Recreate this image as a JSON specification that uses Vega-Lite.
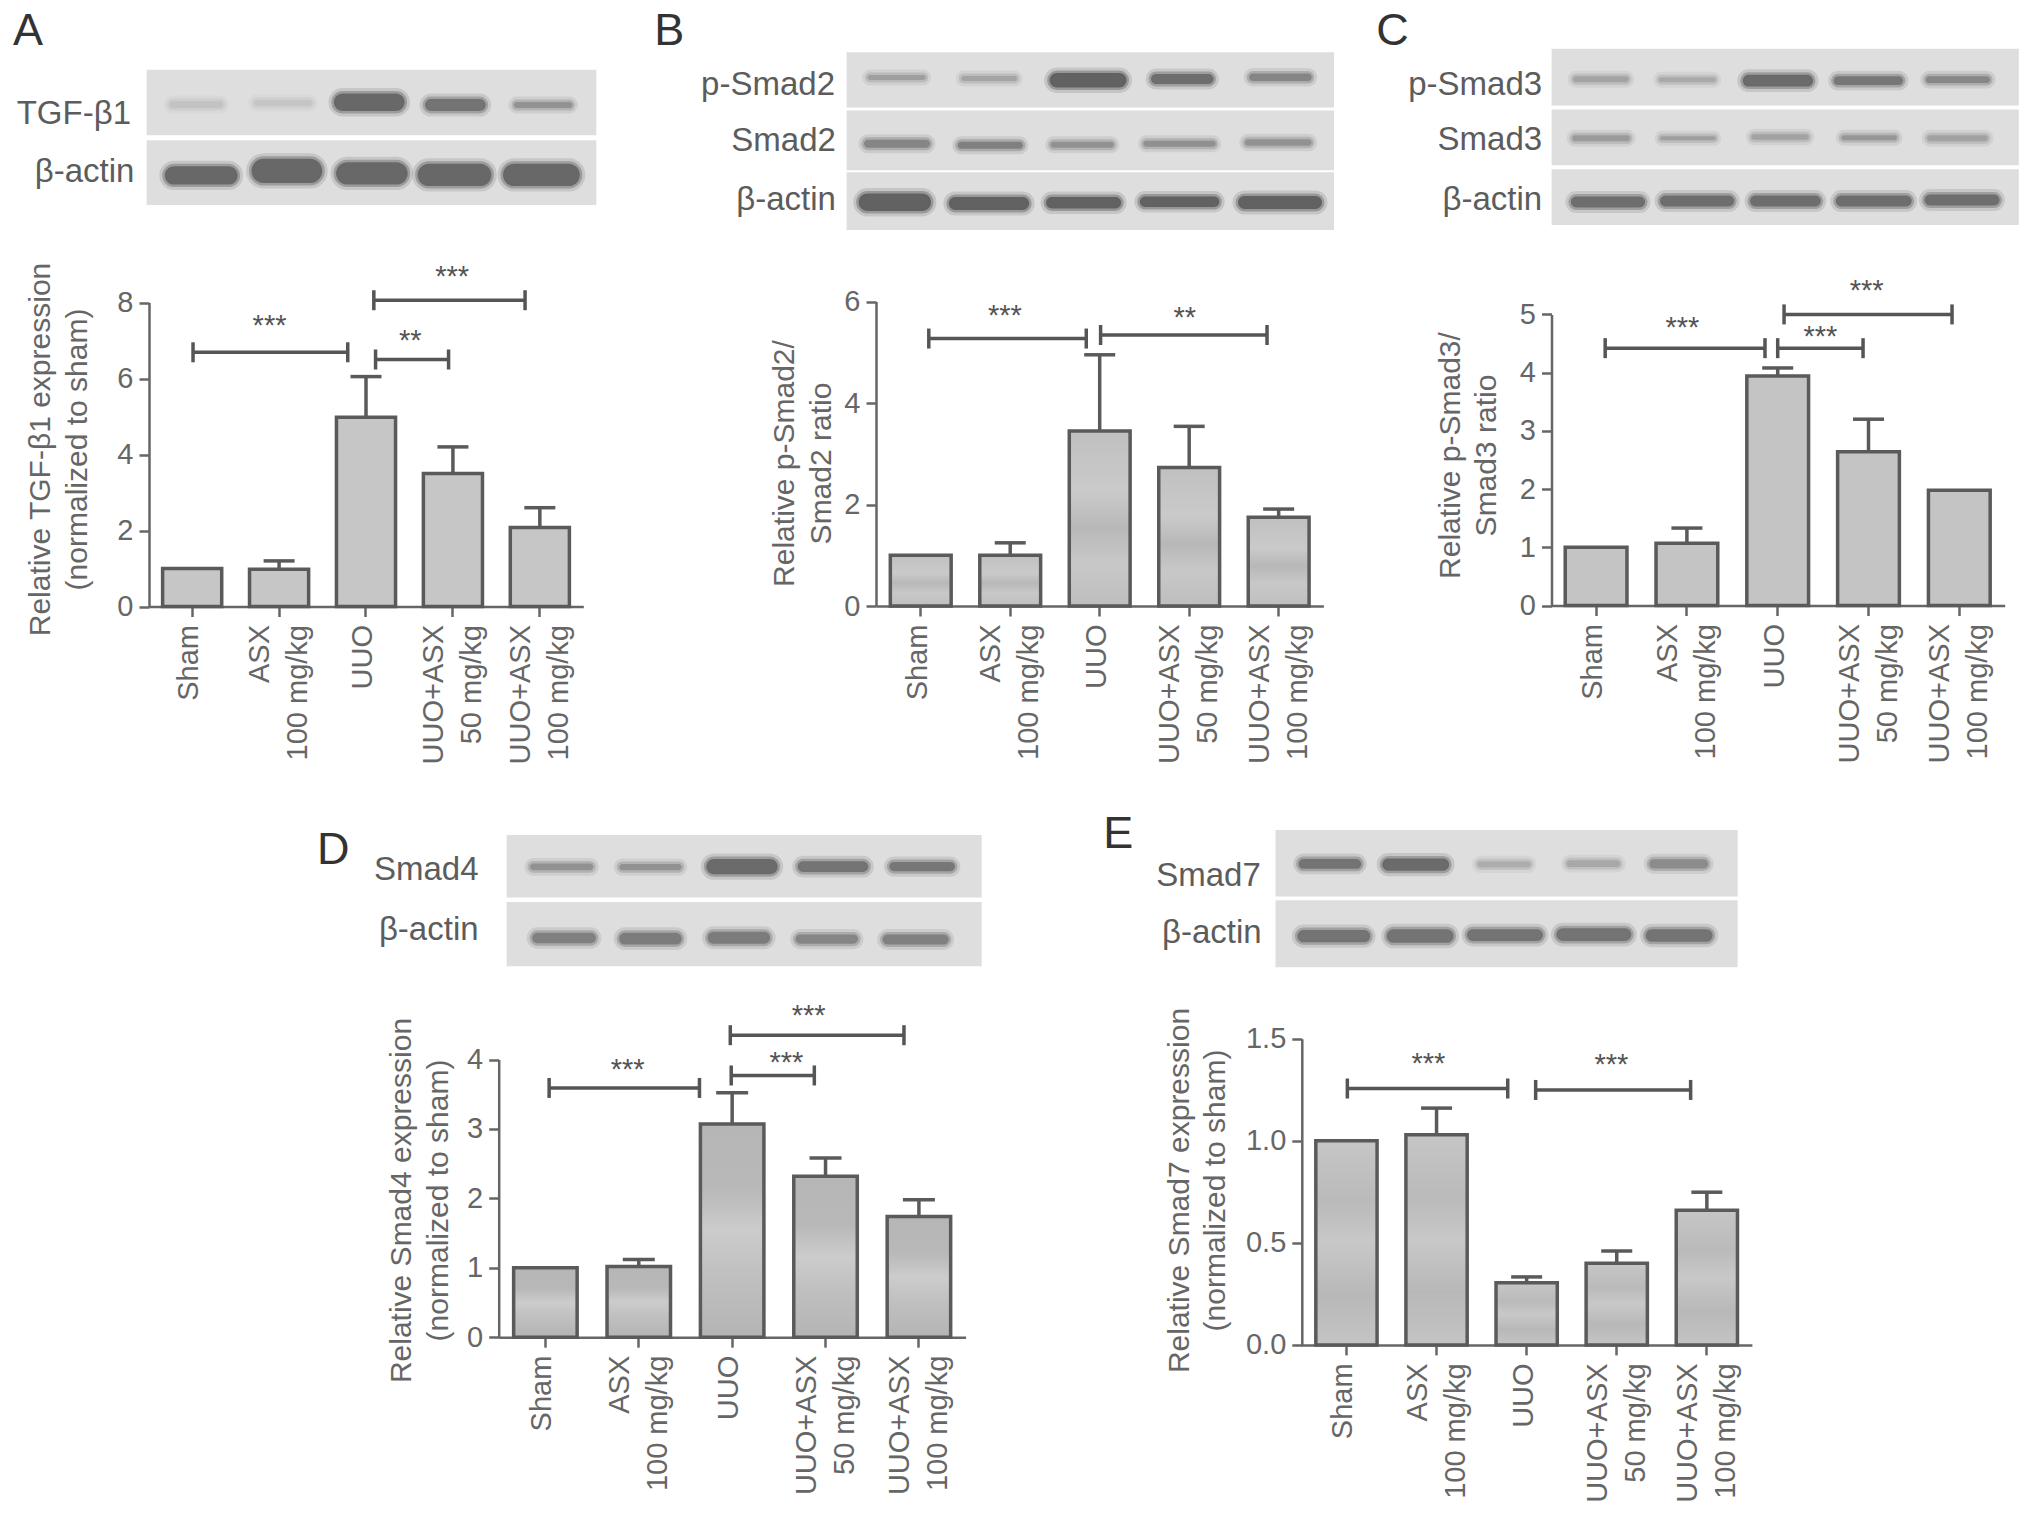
{"$schema":"https://vega.github.io/schema/vega-lite/v6.json","width":2032,"height":1520,"autosize":{"type":"none"},"padding":0,"background":"white",
"config":{"font":"Liberation Sans","view":{"stroke":null},"axis":{"grid":false,"domainColor":"#666666","domainWidth":2.5,"tickColor":"#666666","tickWidth":2.5,"tickSize":10,"labelColor":"#666666","titleColor":"#666666","labelFontSize":29,"titleFontSize":30,"titleFontWeight":"normal","titleBaseline":"alphabetic","labelOverlap":false,"labelBound":false,"labelFlush":false,"labelLimit":400,"titleLimit":600}},
"resolve":{"scale":{"x":"independent","y":"independent"}},
"datasets":{
"strips":[
{"panel":"A","left":338,"right":1375,"top":140,"bottom":272},{"panel":"A","left":338,"right":1375,"top":282,"bottom":412},
{"panel":"B","left":418,"right":1510,"top":105,"bottom":216},{"panel":"B","left":418,"right":1510,"top":222,"bottom":342},{"panel":"B","left":418,"right":1510,"top":346,"bottom":462},
{"panel":"C","left":447,"right":1537,"top":98,"bottom":212},{"panel":"C","left":447,"right":1537,"top":220,"bottom":332},{"panel":"C","left":447,"right":1537,"top":340,"bottom":452},
{"panel":"D","left":463,"right":1527,"top":55,"bottom":193},{"panel":"D","left":463,"right":1527,"top":203,"bottom":345},
{"panel":"E","left":438,"right":1473,"top":44,"bottom":191},{"panel":"E","left":438,"right":1473,"top":199,"bottom":347}],
"bands":[
{"panel":"A","left":390,"right":515,"top":203,"bottom":217,"intensity":0.22},{"panel":"A","left":585,"right":720,"top":201,"bottom":213,"intensity":0.2},{"panel":"A","left":770,"right":933,"top":188,"bottom":223,"intensity":0.95},{"panel":"A","left":980,"right":1120,"top":199,"bottom":223,"intensity":0.85},{"panel":"A","left":1185,"right":1320,"top":205,"bottom":217,"intensity":0.6},
{"panel":"A","left":380,"right":548,"top":334,"bottom":371,"intensity":0.95},{"panel":"A","left":580,"right":743,"top":319,"bottom":368,"intensity":0.95},{"panel":"A","left":775,"right":940,"top":326,"bottom":371,"intensity":0.95},{"panel":"A","left":963,"right":1133,"top":329,"bottom":374,"intensity":0.95},{"panel":"A","left":1160,"right":1337,"top":329,"bottom":374,"intensity":0.95},
{"panel":"B","left":465,"right":595,"top":151,"bottom":161,"intensity":0.5},{"panel":"B","left":675,"right":800,"top":153,"bottom":163,"intensity":0.45},{"panel":"B","left":873,"right":1045,"top":147,"bottom":176,"intensity":1},{"panel":"B","left":1100,"right":1240,"top":149,"bottom":169,"intensity":0.9},{"panel":"B","left":1320,"right":1460,"top":148,"bottom":163,"intensity":0.7},
{"panel":"B","left":457,"right":605,"top":281,"bottom":297,"intensity":0.7},{"panel":"B","left":667,"right":813,"top":285,"bottom":299,"intensity":0.75},{"panel":"B","left":875,"right":1017,"top":285,"bottom":297,"intensity":0.6},{"panel":"B","left":1083,"right":1245,"top":283,"bottom":295,"intensity":0.62},{"panel":"B","left":1310,"right":1460,"top":280,"bottom":293,"intensity":0.6},
{"panel":"B","left":445,"right":607,"top":389,"bottom":424,"intensity":1},{"panel":"B","left":647,"right":827,"top":396,"bottom":422,"intensity":1},{"panel":"B","left":865,"right":1033,"top":396,"bottom":419,"intensity":1},{"panel":"B","left":1075,"right":1253,"top":395,"bottom":416,"intensity":1},{"panel":"B","left":1295,"right":1483,"top":394,"bottom":420,"intensity":1},
{"panel":"C","left":497,"right":627,"top":153,"bottom":165,"intensity":0.45},{"panel":"C","left":697,"right":830,"top":155,"bottom":165,"intensity":0.42},{"panel":"C","left":893,"right":1057,"top":150,"bottom":174,"intensity":0.92},{"panel":"C","left":1105,"right":1267,"top":153,"bottom":171,"intensity":0.82},{"panel":"C","left":1320,"right":1470,"top":153,"bottom":167,"intensity":0.68},
{"panel":"C","left":495,"right":630,"top":272,"bottom":284,"intensity":0.52},{"panel":"C","left":700,"right":830,"top":274,"bottom":282,"intensity":0.5},{"panel":"C","left":913,"right":1047,"top":270,"bottom":281,"intensity":0.47},{"panel":"C","left":1123,"right":1253,"top":272,"bottom":282,"intensity":0.57},{"panel":"C","left":1323,"right":1465,"top":272,"bottom":284,"intensity":0.47},
{"panel":"C","left":492,"right":665,"top":395,"bottom":417,"intensity":0.9},{"panel":"C","left":700,"right":873,"top":393,"bottom":415,"intensity":0.9},{"panel":"C","left":910,"right":1075,"top":393,"bottom":415,"intensity":0.9},{"panel":"C","left":1110,"right":1287,"top":393,"bottom":415,"intensity":0.9},{"panel":"C","left":1317,"right":1492,"top":391,"bottom":413,"intensity":0.9},
{"panel":"D","left":515,"right":657,"top":118,"bottom":133,"intensity":0.6},{"panel":"D","left":715,"right":855,"top":119,"bottom":133,"intensity":0.6},{"panel":"D","left":910,"right":1070,"top":108,"bottom":142,"intensity":0.92},{"panel":"D","left":1115,"right":1273,"top":113,"bottom":137,"intensity":0.85},{"panel":"D","left":1320,"right":1467,"top":115,"bottom":135,"intensity":0.82},
{"panel":"D","left":520,"right":663,"top":271,"bottom":294,"intensity":0.75},{"panel":"D","left":715,"right":855,"top":271,"bottom":297,"intensity":0.78},{"panel":"D","left":913,"right":1053,"top":269,"bottom":295,"intensity":0.78},{"panel":"D","left":1110,"right":1250,"top":275,"bottom":295,"intensity":0.7},{"panel":"D","left":1305,"right":1453,"top":275,"bottom":297,"intensity":0.75},
{"panel":"E","left":490,"right":630,"top":108,"bottom":130,"intensity":0.85},{"panel":"E","left":677,"right":827,"top":107,"bottom":134,"intensity":0.92},{"panel":"E","left":890,"right":1010,"top":113,"bottom":127,"intensity":0.38},{"panel":"E","left":1090,"right":1210,"top":111,"bottom":126,"intensity":0.43},{"panel":"E","left":1275,"right":1407,"top":109,"bottom":129,"intensity":0.65},
{"panel":"E","left":487,"right":650,"top":265,"bottom":292,"intensity":0.85},{"panel":"E","left":687,"right":837,"top":263,"bottom":293,"intensity":0.85},{"panel":"E","left":867,"right":1037,"top":263,"bottom":289,"intensity":0.85},{"panel":"E","left":1067,"right":1235,"top":261,"bottom":289,"intensity":0.85},{"panel":"E","left":1267,"right":1417,"top":263,"bottom":291,"intensity":0.85}],
"rowLabels":[
{"panel":"A","label":"TGF-β1","right":302,"middle":230},{"panel":"A","label":"β-actin","right":310,"middle":345},
{"panel":"B","label":"p-Smad2","right":392,"middle":170},{"panel":"B","label":"Smad2","right":394,"middle":284},{"panel":"B","label":"β-actin","right":394,"middle":402},
{"panel":"C","label":"p-Smad3","right":425,"middle":170},{"panel":"C","label":"Smad3","right":425,"middle":282},{"panel":"C","label":"β-actin","right":425,"middle":402},
{"panel":"D","label":"Smad4","right":400,"middle":133},{"panel":"D","label":"β-actin","right":400,"middle":264},
{"panel":"E","label":"Smad7","right":405,"middle":145},{"panel":"E","label":"β-actin","right":407,"middle":272}],
"letters":[
{"panel":"A","letter":"A","left":30,"middle":62},{"panel":"B","letter":"B","left":-13,"middle":62},{"panel":"C","letter":"C","left":38,"middle":62},{"panel":"D","letter":"D","left":38,"middle":88},{"panel":"E","letter":"E","left":52,"middle":52}],
"bars":[
{"panel":"A","group":"Sham","mean":1,"upper":null},{"panel":"A","group":"ASX\n100 mg/kg","mean":0.98,"upper":1.2},{"panel":"A","group":"UUO","mean":4.98,"upper":6.05},{"panel":"A","group":"UUO+ASX\n50 mg/kg","mean":3.5,"upper":4.2},{"panel":"A","group":"UUO+ASX\n100 mg/kg","mean":2.08,"upper":2.6},
{"panel":"B","group":"Sham","mean":1,"upper":null},{"panel":"B","group":"ASX\n100 mg/kg","mean":1.0,"upper":1.245},{"panel":"B","group":"UUO","mean":3.45,"upper":4.95},{"panel":"B","group":"UUO+ASX\n50 mg/kg","mean":2.73,"upper":3.54},{"panel":"B","group":"UUO+ASX\n100 mg/kg","mean":1.75,"upper":1.91},
{"panel":"C","group":"Sham","mean":1,"upper":null},{"panel":"C","group":"ASX\n100 mg/kg","mean":1.07,"upper":1.33},{"panel":"C","group":"UUO","mean":3.94,"upper":4.08},{"panel":"C","group":"UUO+ASX\n50 mg/kg","mean":2.64,"upper":3.2},{"panel":"C","group":"UUO+ASX\n100 mg/kg","mean":1.98,"upper":null},
{"panel":"D","group":"Sham","mean":1,"upper":null},{"panel":"D","group":"ASX\n100 mg/kg","mean":1.02,"upper":1.12},{"panel":"D","group":"UUO","mean":3.07,"upper":3.52},{"panel":"D","group":"UUO+ASX\n50 mg/kg","mean":2.32,"upper":2.58},{"panel":"D","group":"UUO+ASX\n100 mg/kg","mean":1.74,"upper":1.98},
{"panel":"E","group":"Sham","mean":1,"upper":null},{"panel":"E","group":"ASX\n100 mg/kg","mean":1.03,"upper":1.16},{"panel":"E","group":"UUO","mean":0.304,"upper":0.333},{"panel":"E","group":"UUO+ASX\n50 mg/kg","mean":0.4,"upper":0.46},{"panel":"E","group":"UUO+ASX\n100 mg/kg","mean":0.66,"upper":0.748}],
"brackets":[
{"panel":"A","from":1.01,"to":2.79,"level":6.69},{"panel":"A","from":3.09,"to":4.83,"level":8.06},{"panel":"A","from":3.11,"to":3.95,"level":6.5},
{"panel":"B","from":1.09,"to":2.85,"level":5.27},{"panel":"B","from":3.01,"to":4.87,"level":5.34},
{"panel":"C","from":1.1,"to":2.86,"level":4.42},{"panel":"C","from":3.0,"to":3.94,"level":4.42},{"panel":"C","from":3.07,"to":4.92,"level":5.0},
{"panel":"D","from":1.04,"to":2.65,"level":3.59},{"panel":"D","from":2.99,"to":3.88,"level":3.77},{"panel":"D","from":2.98,"to":4.84,"level":4.35},
{"panel":"E","from":1.01,"to":2.79,"level":1.256},{"panel":"E","from":3.1,"to":4.82,"level":1.249}],
"stars":[
{"panel":"A","mark":"***","at":1.89,"level":7.55},{"panel":"A","mark":"***","at":3.99,"level":8.82},{"panel":"A","mark":"**","at":3.51,"level":7.15},
{"panel":"B","mark":"***","at":1.94,"level":5.83},{"panel":"B","mark":"**","at":3.95,"level":5.79},
{"panel":"C","mark":"***","at":1.95,"level":4.87},{"panel":"C","mark":"***","at":3.98,"level":5.5},{"panel":"C","mark":"***","at":3.47,"level":4.72},
{"panel":"D","mark":"***","at":1.88,"level":3.93},{"panel":"D","mark":"***","at":3.82,"level":4.72},{"panel":"D","mark":"***","at":3.58,"level":4.04},
{"panel":"E","mark":"***","at":1.91,"level":1.407},{"panel":"E","mark":"***","at":3.94,"level":1.402}]
},
"layer":[
{"layer":[
{"data":{"name":"strips"},"transform":[{"filter":"datum.panel=='A'"}],"mark":{"type":"rect","fill":"#dedede"},"encoding":{"x":{"field":"left","type":"quantitative","scale":{"domain":[338,1375],"range":[146.6,596.3],"nice":false,"zero":false},"axis":null},"x2":{"field":"right"},"y":{"field":"top","type":"quantitative","scale":{"domain":[140,412],"range":[69.7,205],"nice":false,"zero":false},"axis":null},"y2":{"field":"bottom"}}},
{"data":{"name":"bands"},"transform":[{"filter":"datum.panel=='A'"}],"encoding":{"x":{"field":"left","type":"quantitative","axis":null},"x2":{"field":"right"},"y":{"field":"top","type":"quantitative","axis":null},"y2":{"field":"bottom"},"fill":{"field":"intensity","type":"quantitative","scale":{"domain":[0,1],"range":["#e0e0e0","#626262"]},"legend":null},"stroke":{"field":"intensity","type":"quantitative","scale":{"domain":[0,1],"range":["#e0e0e0","#626262"]},"legend":null}},"layer":[{"mark":{"type":"rect","cornerRadius":30,"strokeWidth":11,"strokeOpacity":0.2,"fillOpacity":0}},{"mark":{"type":"rect","cornerRadius":30,"strokeWidth":5,"strokeOpacity":0.45}}]},
{"data":{"name":"rowLabels"},"transform":[{"filter":"datum.panel=='A'"}],"mark":{"type":"text","align":"right","baseline":"middle","fontSize":33,"color":"#5c5c5c"},"encoding":{"x":{"field":"right","type":"quantitative","axis":null},"y":{"field":"middle","type":"quantitative","axis":null},"text":{"field":"label"}}},
{"data":{"name":"letters"},"transform":[{"filter":"datum.panel=='A'"}],"mark":{"type":"text","align":"left","baseline":"middle","fontSize":45,"color":"#333333"},"encoding":{"x":{"field":"left","type":"quantitative","axis":null},"y":{"field":"middle","type":"quantitative","axis":null},"text":{"field":"letter"}}}
]},
{"data":{"name":"bars"},"transform":[{"filter":"datum.panel=='A'"}],"encoding":{"x":{"field":"group","type":"nominal","scale":{"domain":["Sham","ASX\n100 mg/kg","UUO","UUO+ASX\n50 mg/kg","UUO+ASX\n100 mg/kg"],"range":[148.7,583.3],"paddingInner":0.32,"paddingOuter":0.16},"axis":{"orient":"bottom","offset":-913.5,"title":null,"labelAngle":270,"labelAlign":"right","labelBaseline":"middle","labelPadding":8,"labelLineHeight":38,"labelOffset":{"condition":{"test":"indexof(datum.value,'\\n')>=0","value":-19},"value":-3},"labelExpr":"split(datum.label,'\\n')"}},"y":{"field":"mean","type":"quantitative","scale":{"domain":[0,8],"range":[606.5,302.5],"nice":false},"axis":{"orient":"left","offset":-149,"values":[0,2,4,6,8],"labelPadding":6,"title":["Relative TGF-β1 expression","(normalized to sham)"],"titleX":-100,"titleY":449,"titleLineHeight":37}}},
"layer":[
{"transform":[{"filter":"datum.upper!=null"}],"mark":{"type":"rule","color":"#5a5a5a","strokeWidth":3.5},"encoding":{"y2":{"field":"upper"}}},
{"mark":{"type":"bar","stroke":"#5a5a5a","strokeWidth":3.5,"fill":"#c6c6c6"}}
]},
{"data":{"name":"bars"},"transform":[{"filter":"datum.panel=='A' && datum.upper!=null"}],"mark":{"type":"tick","color":"#5a5a5a","size":31,"thickness":3.5,"opacity":1},"encoding":{"x":{"field":"group","type":"nominal","scale":{"domain":["Sham","ASX\n100 mg/kg","UUO","UUO+ASX\n50 mg/kg","UUO+ASX\n100 mg/kg"],"range":[148.7,583.3],"paddingInner":0.32,"paddingOuter":0.16},"axis":null},"y":{"field":"upper","type":"quantitative","scale":{"domain":[0,8],"range":[606.5,302.5],"nice":false},"axis":null}}},
{"layer":[
{"data":{"name":"brackets"},"transform":[{"filter":"datum.panel=='A'"}],"mark":{"type":"rule","color":"#555555","strokeWidth":3.5},"encoding":{"x":{"field":"from","type":"quantitative","scale":{"domain":[0.5,5.5],"range":[148.7,583.3],"nice":false,"zero":false},"axis":null},"x2":{"field":"to"},"y":{"field":"level","type":"quantitative","scale":{"domain":[0,8],"range":[606.5,302.5],"nice":false},"axis":null}}},
{"data":{"name":"brackets"},"transform":[{"filter":"datum.panel=='A'"}],"mark":{"type":"tick","orient":"vertical","color":"#555555","size":20,"thickness":3.5,"opacity":1},"encoding":{"x":{"field":"from","type":"quantitative","axis":null},"y":{"field":"level","type":"quantitative","axis":null}}},
{"data":{"name":"brackets"},"transform":[{"filter":"datum.panel=='A'"}],"mark":{"type":"tick","orient":"vertical","color":"#555555","size":20,"thickness":3.5,"opacity":1},"encoding":{"x":{"field":"to","type":"quantitative","axis":null},"y":{"field":"level","type":"quantitative","axis":null}}},
{"data":{"name":"stars"},"transform":[{"filter":"datum.panel=='A'"}],"mark":{"type":"text","fontSize":29,"dy":6,"color":"#555555"},"encoding":{"x":{"field":"at","type":"quantitative","axis":null},"y":{"field":"level","type":"quantitative","axis":null},"text":{"field":"mark"}}}
]},

{"layer":[
{"data":{"name":"strips"},"transform":[{"filter":"datum.panel=='B'"}],"mark":{"type":"rect","fill":"#dedede"},"encoding":{"x":{"field":"left","type":"quantitative","scale":{"domain":[418,1510],"range":[846.6,1334],"nice":false,"zero":false},"axis":null},"x2":{"field":"right"},"y":{"field":"top","type":"quantitative","scale":{"domain":[105,462],"range":[52.2,229.9],"nice":false,"zero":false},"axis":null},"y2":{"field":"bottom"}}},
{"data":{"name":"bands"},"transform":[{"filter":"datum.panel=='B'"}],"encoding":{"x":{"field":"left","type":"quantitative","axis":null},"x2":{"field":"right"},"y":{"field":"top","type":"quantitative","axis":null},"y2":{"field":"bottom"},"fill":{"field":"intensity","type":"quantitative","scale":{"domain":[0,1],"range":["#e0e0e0","#626262"]},"legend":null},"stroke":{"field":"intensity","type":"quantitative","scale":{"domain":[0,1],"range":["#e0e0e0","#626262"]},"legend":null}},"layer":[{"mark":{"type":"rect","cornerRadius":30,"strokeWidth":11,"strokeOpacity":0.2,"fillOpacity":0}},{"mark":{"type":"rect","cornerRadius":30,"strokeWidth":5,"strokeOpacity":0.45}}]},
{"data":{"name":"rowLabels"},"transform":[{"filter":"datum.panel=='B'"}],"mark":{"type":"text","align":"right","baseline":"middle","fontSize":33,"color":"#5c5c5c"},"encoding":{"x":{"field":"right","type":"quantitative","axis":null},"y":{"field":"middle","type":"quantitative","axis":null},"text":{"field":"label"}}},
{"data":{"name":"letters"},"transform":[{"filter":"datum.panel=='B'"}],"mark":{"type":"text","align":"left","baseline":"middle","fontSize":45,"color":"#333333"},"encoding":{"x":{"field":"left","type":"quantitative","axis":null},"y":{"field":"middle","type":"quantitative","axis":null},"text":{"field":"letter"}}}
]},
{"data":{"name":"bars"},"transform":[{"filter":"datum.panel=='B'"}],"encoding":{"x":{"field":"group","type":"nominal","scale":{"domain":["Sham","ASX\n100 mg/kg","UUO","UUO+ASX\n50 mg/kg","UUO+ASX\n100 mg/kg"],"range":[876,1323.4],"paddingInner":0.32,"paddingOuter":0.16},"axis":{"orient":"bottom","offset":-914,"title":null,"labelAngle":270,"labelAlign":"right","labelBaseline":"middle","labelPadding":8,"labelLineHeight":38,"labelOffset":{"condition":{"test":"indexof(datum.value,'\\n')>=0","value":-19},"value":-3},"labelExpr":"split(datum.label,'\\n')"}},"y":{"field":"mean","type":"quantitative","scale":{"domain":[0,6],"range":[606,301.5],"nice":false},"axis":{"orient":"left","offset":-876,"values":[0,2,4,6],"labelPadding":6,"title":["Relative p-Smad2/","Smad2 ratio"],"titleX":-83,"titleY":463,"titleLineHeight":37}}},
"layer":[
{"transform":[{"filter":"datum.upper!=null"}],"mark":{"type":"rule","color":"#5a5a5a","strokeWidth":3.5},"encoding":{"y2":{"field":"upper"}}},
{"mark":{"type":"bar","stroke":"#5a5a5a","strokeWidth":3.5,"fill":{"gradient":"linear","x1":0,"y1":0,"x2":0,"y2":1,"stops":[{"offset":0,"color":"#c0c0c0"},{"offset":0.35,"color":"#cacaca"},{"offset":0.55,"color":"#b8b8b8"},{"offset":0.75,"color":"#c8c8c8"},{"offset":1,"color":"#bebebe"}]}}}
]},
{"data":{"name":"bars"},"transform":[{"filter":"datum.panel=='B' && datum.upper!=null"}],"mark":{"type":"tick","color":"#5a5a5a","size":31,"thickness":3.5,"opacity":1},"encoding":{"x":{"field":"group","type":"nominal","scale":{"domain":["Sham","ASX\n100 mg/kg","UUO","UUO+ASX\n50 mg/kg","UUO+ASX\n100 mg/kg"],"range":[876,1323.4],"paddingInner":0.32,"paddingOuter":0.16},"axis":null},"y":{"field":"upper","type":"quantitative","scale":{"domain":[0,6],"range":[606,301.5],"nice":false},"axis":null}}},
{"layer":[
{"data":{"name":"brackets"},"transform":[{"filter":"datum.panel=='B'"}],"mark":{"type":"rule","color":"#555555","strokeWidth":3.5},"encoding":{"x":{"field":"from","type":"quantitative","scale":{"domain":[0.5,5.5],"range":[876,1323.4],"nice":false,"zero":false},"axis":null},"x2":{"field":"to"},"y":{"field":"level","type":"quantitative","scale":{"domain":[0,6],"range":[606,301.5],"nice":false},"axis":null}}},
{"data":{"name":"brackets"},"transform":[{"filter":"datum.panel=='B'"}],"mark":{"type":"tick","orient":"vertical","color":"#555555","size":20,"thickness":3.5,"opacity":1},"encoding":{"x":{"field":"from","type":"quantitative","axis":null},"y":{"field":"level","type":"quantitative","axis":null}}},
{"data":{"name":"brackets"},"transform":[{"filter":"datum.panel=='B'"}],"mark":{"type":"tick","orient":"vertical","color":"#555555","size":20,"thickness":3.5,"opacity":1},"encoding":{"x":{"field":"to","type":"quantitative","axis":null},"y":{"field":"level","type":"quantitative","axis":null}}},
{"data":{"name":"stars"},"transform":[{"filter":"datum.panel=='B'"}],"mark":{"type":"text","fontSize":29,"dy":6,"color":"#555555"},"encoding":{"x":{"field":"at","type":"quantitative","axis":null},"y":{"field":"level","type":"quantitative","axis":null},"text":{"field":"mark"}}}
]},

{"layer":[
{"data":{"name":"strips"},"transform":[{"filter":"datum.panel=='C'"}],"mark":{"type":"rect","fill":"#dedede"},"encoding":{"x":{"field":"left","type":"quantitative","scale":{"domain":[447,1537],"range":[1551.6,2018.8],"nice":false,"zero":false},"axis":null},"x2":{"field":"right"},"y":{"field":"top","type":"quantitative","scale":{"domain":[98,452],"range":[48.8,224.9],"nice":false,"zero":false},"axis":null},"y2":{"field":"bottom"}}},
{"data":{"name":"bands"},"transform":[{"filter":"datum.panel=='C'"}],"encoding":{"x":{"field":"left","type":"quantitative","axis":null},"x2":{"field":"right"},"y":{"field":"top","type":"quantitative","axis":null},"y2":{"field":"bottom"},"fill":{"field":"intensity","type":"quantitative","scale":{"domain":[0,1],"range":["#e0e0e0","#626262"]},"legend":null},"stroke":{"field":"intensity","type":"quantitative","scale":{"domain":[0,1],"range":["#e0e0e0","#626262"]},"legend":null}},"layer":[{"mark":{"type":"rect","cornerRadius":30,"strokeWidth":11,"strokeOpacity":0.2,"fillOpacity":0}},{"mark":{"type":"rect","cornerRadius":30,"strokeWidth":5,"strokeOpacity":0.45}}]},
{"data":{"name":"rowLabels"},"transform":[{"filter":"datum.panel=='C'"}],"mark":{"type":"text","align":"right","baseline":"middle","fontSize":33,"color":"#5c5c5c"},"encoding":{"x":{"field":"right","type":"quantitative","axis":null},"y":{"field":"middle","type":"quantitative","axis":null},"text":{"field":"label"}}},
{"data":{"name":"letters"},"transform":[{"filter":"datum.panel=='C'"}],"mark":{"type":"text","align":"left","baseline":"middle","fontSize":45,"color":"#333333"},"encoding":{"x":{"field":"left","type":"quantitative","axis":null},"y":{"field":"middle","type":"quantitative","axis":null},"text":{"field":"letter"}}}
]},
{"data":{"name":"bars"},"transform":[{"filter":"datum.panel=='C'"}],"encoding":{"x":{"field":"group","type":"nominal","scale":{"domain":["Sham","ASX\n100 mg/kg","UUO","UUO+ASX\n50 mg/kg","UUO+ASX\n100 mg/kg"],"range":[1550.7,2004.7],"paddingInner":0.32,"paddingOuter":0.16},"axis":{"orient":"bottom","offset":-914.5,"title":null,"labelAngle":270,"labelAlign":"right","labelBaseline":"middle","labelPadding":8,"labelLineHeight":38,"labelOffset":{"condition":{"test":"indexof(datum.value,'\\n')>=0","value":-19},"value":-3},"labelExpr":"split(datum.label,'\\n')"}},"y":{"field":"mean","type":"quantitative","scale":{"domain":[0,5],"range":[605.5,314.4],"nice":false},"axis":{"orient":"left","offset":-1551.5,"values":[0,1,2,3,4,5],"labelPadding":6,"title":["Relative p-Smad3/","Smad3 ratio"],"titleX":-92,"titleY":455,"titleLineHeight":36}}},
"layer":[
{"transform":[{"filter":"datum.upper!=null"}],"mark":{"type":"rule","color":"#5a5a5a","strokeWidth":3.5},"encoding":{"y2":{"field":"upper"}}},
{"mark":{"type":"bar","stroke":"#5a5a5a","strokeWidth":3.5,"fill":"#c4c4c4"}}
]},
{"data":{"name":"bars"},"transform":[{"filter":"datum.panel=='C' && datum.upper!=null"}],"mark":{"type":"tick","color":"#5a5a5a","size":31,"thickness":3.5,"opacity":1},"encoding":{"x":{"field":"group","type":"nominal","scale":{"domain":["Sham","ASX\n100 mg/kg","UUO","UUO+ASX\n50 mg/kg","UUO+ASX\n100 mg/kg"],"range":[1550.7,2004.7],"paddingInner":0.32,"paddingOuter":0.16},"axis":null},"y":{"field":"upper","type":"quantitative","scale":{"domain":[0,5],"range":[605.5,314.4],"nice":false},"axis":null}}},
{"layer":[
{"data":{"name":"brackets"},"transform":[{"filter":"datum.panel=='C'"}],"mark":{"type":"rule","color":"#555555","strokeWidth":3.5},"encoding":{"x":{"field":"from","type":"quantitative","scale":{"domain":[0.5,5.5],"range":[1550.7,2004.7],"nice":false,"zero":false},"axis":null},"x2":{"field":"to"},"y":{"field":"level","type":"quantitative","scale":{"domain":[0,5],"range":[605.5,314.4],"nice":false},"axis":null}}},
{"data":{"name":"brackets"},"transform":[{"filter":"datum.panel=='C'"}],"mark":{"type":"tick","orient":"vertical","color":"#555555","size":20,"thickness":3.5,"opacity":1},"encoding":{"x":{"field":"from","type":"quantitative","axis":null},"y":{"field":"level","type":"quantitative","axis":null}}},
{"data":{"name":"brackets"},"transform":[{"filter":"datum.panel=='C'"}],"mark":{"type":"tick","orient":"vertical","color":"#555555","size":20,"thickness":3.5,"opacity":1},"encoding":{"x":{"field":"to","type":"quantitative","axis":null},"y":{"field":"level","type":"quantitative","axis":null}}},
{"data":{"name":"stars"},"transform":[{"filter":"datum.panel=='C'"}],"mark":{"type":"text","fontSize":29,"dy":6,"color":"#555555"},"encoding":{"x":{"field":"at","type":"quantitative","axis":null},"y":{"field":"level","type":"quantitative","axis":null},"text":{"field":"mark"}}}
]},

{"layer":[
{"data":{"name":"strips"},"transform":[{"filter":"datum.panel=='D'"}],"mark":{"type":"rect","fill":"#dedede"},"encoding":{"x":{"field":"left","type":"quantitative","scale":{"domain":[463,1527],"range":[506.7,981.7],"nice":false,"zero":false},"axis":null},"x2":{"field":"right"},"y":{"field":"top","type":"quantitative","scale":{"domain":[55,345],"range":[834.9,966.3],"nice":false,"zero":false},"axis":null},"y2":{"field":"bottom"}}},
{"data":{"name":"bands"},"transform":[{"filter":"datum.panel=='D'"}],"encoding":{"x":{"field":"left","type":"quantitative","axis":null},"x2":{"field":"right"},"y":{"field":"top","type":"quantitative","axis":null},"y2":{"field":"bottom"},"fill":{"field":"intensity","type":"quantitative","scale":{"domain":[0,1],"range":["#e0e0e0","#626262"]},"legend":null},"stroke":{"field":"intensity","type":"quantitative","scale":{"domain":[0,1],"range":["#e0e0e0","#626262"]},"legend":null}},"layer":[{"mark":{"type":"rect","cornerRadius":30,"strokeWidth":11,"strokeOpacity":0.2,"fillOpacity":0}},{"mark":{"type":"rect","cornerRadius":30,"strokeWidth":5,"strokeOpacity":0.45}}]},
{"data":{"name":"rowLabels"},"transform":[{"filter":"datum.panel=='D'"}],"mark":{"type":"text","align":"right","baseline":"middle","fontSize":33,"color":"#5c5c5c"},"encoding":{"x":{"field":"right","type":"quantitative","axis":null},"y":{"field":"middle","type":"quantitative","axis":null},"text":{"field":"label"}}},
{"data":{"name":"letters"},"transform":[{"filter":"datum.panel=='D'"}],"mark":{"type":"text","align":"left","baseline":"middle","fontSize":45,"color":"#333333"},"encoding":{"x":{"field":"left","type":"quantitative","axis":null},"y":{"field":"middle","type":"quantitative","axis":null},"text":{"field":"letter"}}}
]},
{"data":{"name":"bars"},"transform":[{"filter":"datum.panel=='D'"}],"encoding":{"x":{"field":"group","type":"nominal","scale":{"domain":["Sham","ASX\n100 mg/kg","UUO","UUO+ASX\n50 mg/kg","UUO+ASX\n100 mg/kg"],"range":[498.7,965.6],"paddingInner":0.32,"paddingOuter":0.16},"axis":{"orient":"bottom","offset":-182.8,"title":null,"labelAngle":270,"labelAlign":"right","labelBaseline":"middle","labelPadding":8,"labelLineHeight":38,"labelOffset":{"condition":{"test":"indexof(datum.value,'\\n')>=0","value":-19},"value":-3},"labelExpr":"split(datum.label,'\\n')"}},"y":{"field":"mean","type":"quantitative","scale":{"domain":[0,4],"range":[1337.2,1059.5],"nice":false},"axis":{"orient":"left","offset":-498.7,"values":[0,1,2,3,4],"labelPadding":6,"title":["Relative Smad4 expression","(normalized to sham)"],"titleX":-88,"titleY":1200,"titleLineHeight":37}}},
"layer":[
{"transform":[{"filter":"datum.upper!=null"}],"mark":{"type":"rule","color":"#5a5a5a","strokeWidth":3.5},"encoding":{"y2":{"field":"upper"}}},
{"mark":{"type":"bar","stroke":"#5a5a5a","strokeWidth":3.5,"fill":{"gradient":"linear","x1":0,"y1":0,"x2":0,"y2":1,"stops":[{"offset":0,"color":"#b6b6b6"},{"offset":0.3,"color":"#b8b8b8"},{"offset":0.5,"color":"#cccccc"},{"offset":0.7,"color":"#c0c0c0"},{"offset":1,"color":"#b4b4b4"}]}}}
]},
{"data":{"name":"bars"},"transform":[{"filter":"datum.panel=='D' && datum.upper!=null"}],"mark":{"type":"tick","color":"#5a5a5a","size":32,"thickness":3.5,"opacity":1},"encoding":{"x":{"field":"group","type":"nominal","scale":{"domain":["Sham","ASX\n100 mg/kg","UUO","UUO+ASX\n50 mg/kg","UUO+ASX\n100 mg/kg"],"range":[498.7,965.6],"paddingInner":0.32,"paddingOuter":0.16},"axis":null},"y":{"field":"upper","type":"quantitative","scale":{"domain":[0,4],"range":[1337.2,1059.5],"nice":false},"axis":null}}},
{"layer":[
{"data":{"name":"brackets"},"transform":[{"filter":"datum.panel=='D'"}],"mark":{"type":"rule","color":"#555555","strokeWidth":3.5},"encoding":{"x":{"field":"from","type":"quantitative","scale":{"domain":[0.5,5.5],"range":[498.7,965.6],"nice":false,"zero":false},"axis":null},"x2":{"field":"to"},"y":{"field":"level","type":"quantitative","scale":{"domain":[0,4],"range":[1337.2,1059.5],"nice":false},"axis":null}}},
{"data":{"name":"brackets"},"transform":[{"filter":"datum.panel=='D'"}],"mark":{"type":"tick","orient":"vertical","color":"#555555","size":20,"thickness":3.5,"opacity":1},"encoding":{"x":{"field":"from","type":"quantitative","axis":null},"y":{"field":"level","type":"quantitative","axis":null}}},
{"data":{"name":"brackets"},"transform":[{"filter":"datum.panel=='D'"}],"mark":{"type":"tick","orient":"vertical","color":"#555555","size":20,"thickness":3.5,"opacity":1},"encoding":{"x":{"field":"to","type":"quantitative","axis":null},"y":{"field":"level","type":"quantitative","axis":null}}},
{"data":{"name":"stars"},"transform":[{"filter":"datum.panel=='D'"}],"mark":{"type":"text","fontSize":29,"dy":6,"color":"#555555"},"encoding":{"x":{"field":"at","type":"quantitative","axis":null},"y":{"field":"level","type":"quantitative","axis":null},"text":{"field":"mark"}}}
]},

{"layer":[
{"data":{"name":"strips"},"transform":[{"filter":"datum.panel=='E'"}],"mark":{"type":"rect","fill":"#dedede"},"encoding":{"x":{"field":"left","type":"quantitative","scale":{"domain":[438,1473],"range":[1275.5,1737.6],"nice":false,"zero":false},"axis":null},"x2":{"field":"right"},"y":{"field":"top","type":"quantitative","scale":{"domain":[44,347],"range":[829.9,967.2],"nice":false,"zero":false},"axis":null},"y2":{"field":"bottom"}}},
{"data":{"name":"bands"},"transform":[{"filter":"datum.panel=='E'"}],"encoding":{"x":{"field":"left","type":"quantitative","axis":null},"x2":{"field":"right"},"y":{"field":"top","type":"quantitative","axis":null},"y2":{"field":"bottom"},"fill":{"field":"intensity","type":"quantitative","scale":{"domain":[0,1],"range":["#e0e0e0","#626262"]},"legend":null},"stroke":{"field":"intensity","type":"quantitative","scale":{"domain":[0,1],"range":["#e0e0e0","#626262"]},"legend":null}},"layer":[{"mark":{"type":"rect","cornerRadius":30,"strokeWidth":11,"strokeOpacity":0.2,"fillOpacity":0}},{"mark":{"type":"rect","cornerRadius":30,"strokeWidth":5,"strokeOpacity":0.45}}]},
{"data":{"name":"rowLabels"},"transform":[{"filter":"datum.panel=='E'"}],"mark":{"type":"text","align":"right","baseline":"middle","fontSize":33,"color":"#5c5c5c"},"encoding":{"x":{"field":"right","type":"quantitative","axis":null},"y":{"field":"middle","type":"quantitative","axis":null},"text":{"field":"label"}}},
{"data":{"name":"letters"},"transform":[{"filter":"datum.panel=='E'"}],"mark":{"type":"text","align":"left","baseline":"middle","fontSize":45,"color":"#333333"},"encoding":{"x":{"field":"left","type":"quantitative","axis":null},"y":{"field":"middle","type":"quantitative","axis":null},"text":{"field":"letter"}}}
]},
{"data":{"name":"bars"},"transform":[{"filter":"datum.panel=='E'"}],"encoding":{"x":{"field":"group","type":"nominal","scale":{"domain":["Sham","ASX\n100 mg/kg","UUO","UUO+ASX\n50 mg/kg","UUO+ASX\n100 mg/kg"],"range":[1301.4,1751.9],"paddingInner":0.32,"paddingOuter":0.16},"axis":{"orient":"bottom","offset":-175.1,"title":null,"labelAngle":270,"labelAlign":"right","labelBaseline":"middle","labelPadding":8,"labelLineHeight":38,"labelOffset":{"condition":{"test":"indexof(datum.value,'\\n')>=0","value":-19},"value":-3},"labelExpr":"split(datum.label,'\\n')"}},"y":{"field":"mean","type":"quantitative","scale":{"domain":[0,1.5],"range":[1344.9,1038.7],"nice":false},"axis":{"orient":"left","offset":-1301.8,"values":[0,0.5,1,1.5],"format":".1f","labelPadding":6,"title":["Relative Smad7 expression","(normalized to sham)"],"titleX":-113,"titleY":1190,"titleLineHeight":36}}},
"layer":[
{"transform":[{"filter":"datum.upper!=null"}],"mark":{"type":"rule","color":"#5a5a5a","strokeWidth":3.5},"encoding":{"y2":{"field":"upper"}}},
{"mark":{"type":"bar","stroke":"#5a5a5a","strokeWidth":3.5,"fill":{"gradient":"linear","x1":0,"y1":0,"x2":0,"y2":1,"stops":[{"offset":0,"color":"#c6c6c6"},{"offset":0.3,"color":"#bababa"},{"offset":0.5,"color":"#c8c8c8"},{"offset":0.75,"color":"#b8b8b8"},{"offset":1,"color":"#c4c4c4"}]}}}
]},
{"data":{"name":"bars"},"transform":[{"filter":"datum.panel=='E' && datum.upper!=null"}],"mark":{"type":"tick","color":"#5a5a5a","size":31,"thickness":3.5,"opacity":1},"encoding":{"x":{"field":"group","type":"nominal","scale":{"domain":["Sham","ASX\n100 mg/kg","UUO","UUO+ASX\n50 mg/kg","UUO+ASX\n100 mg/kg"],"range":[1301.4,1751.9],"paddingInner":0.32,"paddingOuter":0.16},"axis":null},"y":{"field":"upper","type":"quantitative","scale":{"domain":[0,1.5],"range":[1344.9,1038.7],"nice":false},"axis":null}}},
{"layer":[
{"data":{"name":"brackets"},"transform":[{"filter":"datum.panel=='E'"}],"mark":{"type":"rule","color":"#555555","strokeWidth":3.5},"encoding":{"x":{"field":"from","type":"quantitative","scale":{"domain":[0.5,5.5],"range":[1301.4,1751.9],"nice":false,"zero":false},"axis":null},"x2":{"field":"to"},"y":{"field":"level","type":"quantitative","scale":{"domain":[0,1.5],"range":[1344.9,1038.7],"nice":false},"axis":null}}},
{"data":{"name":"brackets"},"transform":[{"filter":"datum.panel=='E'"}],"mark":{"type":"tick","orient":"vertical","color":"#555555","size":20,"thickness":3.5,"opacity":1},"encoding":{"x":{"field":"from","type":"quantitative","axis":null},"y":{"field":"level","type":"quantitative","axis":null}}},
{"data":{"name":"brackets"},"transform":[{"filter":"datum.panel=='E'"}],"mark":{"type":"tick","orient":"vertical","color":"#555555","size":20,"thickness":3.5,"opacity":1},"encoding":{"x":{"field":"to","type":"quantitative","axis":null},"y":{"field":"level","type":"quantitative","axis":null}}},
{"data":{"name":"stars"},"transform":[{"filter":"datum.panel=='E'"}],"mark":{"type":"text","fontSize":29,"dy":6,"color":"#555555"},"encoding":{"x":{"field":"at","type":"quantitative","axis":null},"y":{"field":"level","type":"quantitative","axis":null},"text":{"field":"mark"}}}
]}
]}
